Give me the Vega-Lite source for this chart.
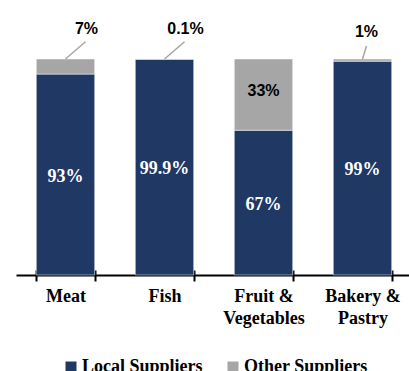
{
  "$schema": "https://vega.github.io/schema/vega-lite/v6.json",
  "autosize": "none",
  "width": 396,
  "height": 275,
  "padding": {"left": 16, "top": 0, "right": 0, "bottom": 96},
  "config": {"view": {"stroke": null}},
  "data": {
    "values": [
      {"category": "Meat", "supplier": "Local Suppliers", "value": 93, "label": "93%"},
      {"category": "Meat", "supplier": "Other Suppliers", "value": 7, "label": "7%"},
      {"category": "Fish", "supplier": "Local Suppliers", "value": 99.9, "label": "99.9%"},
      {"category": "Fish", "supplier": "Other Suppliers", "value": 0.1, "label": "0.1%"},
      {"category": "Fruit & Vegetables", "supplier": "Local Suppliers", "value": 67, "label": "67%"},
      {"category": "Fruit & Vegetables", "supplier": "Other Suppliers", "value": 33, "label": "33%"},
      {"category": "Bakery & Pastry", "supplier": "Local Suppliers", "value": 99, "label": "99%"},
      {"category": "Bakery & Pastry", "supplier": "Other Suppliers", "value": 1, "label": "1%"}
    ]
  },
  "encoding": {
    "x": {
      "field": "category",
      "type": "nominal",
      "sort": null,
      "scale": {"paddingInner": 0.41, "paddingOuter": 0.205},
      "axis": {
        "title": null,
        "domain": false,
        "tickBand": "extent",
        "tickColor": "black",
        "tickWidth": 2,
        "tickSize": 11,
        "offset": -5,
        "labelAngle": 0,
        "labelFont": "Liberation Serif",
        "labelFontWeight": "bold",
        "labelFontSize": 18,
        "labelColor": "black",
        "labelPadding": 6,
        "labelLineHeight": 22,
        "labelExpr": "split(replace(datum.label, '& ', '&|'), '|')"
      }
    }
  },
  "layer": [
    {
      "mark": {"type": "bar", "stroke": "#ffffff", "strokeWidth": 0.5},
      "encoding": {
        "y": {
          "field": "value",
          "type": "quantitative",
          "stack": "zero",
          "scale": {"domain": [0, 127.3], "nice": false},
          "axis": {
            "title": null,
            "values": [0],
            "grid": true,
            "gridColor": "black",
            "gridWidth": 2,
            "domain": false,
            "ticks": false,
            "labels": false
          }
        },
        "color": {
          "field": "supplier",
          "type": "nominal",
          "scale": {"domain": ["Local Suppliers", "Other Suppliers"], "range": ["#203864", "#A6A6A6"]},
          "legend": {
            "title": null,
            "orient": "none",
            "direction": "horizontal",
            "legendX": 46,
            "legendY": 358,
            "symbolType": "square",
            "symbolSize": 121,
            "symbolStrokeWidth": 0,
            "labelFont": "Liberation Serif",
            "labelFontWeight": "bold",
            "labelFontSize": 18,
            "labelColor": "black",
            "labelOffset": 2,
            "columnPadding": 21
          }
        },
        "order": {"field": "supplier", "sort": "ascending"}
      }
    },
    {
      "mark": {"type": "text", "font": "Liberation Serif", "fontWeight": "bold", "fontSize": 18, "color": "white", "baseline": "middle", "dy": 2},
      "encoding": {
        "y": {"field": "value", "type": "quantitative", "stack": "zero", "bandPosition": 0.5},
        "order": {"field": "supplier", "sort": "ascending"},
        "text": {"condition": {"test": "datum.supplier == 'Local Suppliers'", "field": "label"}, "value": ""}
      }
    },
    {
      "mark": {"type": "text", "font": "Liberation Sans", "fontWeight": "bold", "fontSize": 16, "color": "black", "baseline": "middle", "dy": -4},
      "encoding": {
        "y": {"field": "value", "type": "quantitative", "stack": "zero", "bandPosition": 0.5},
        "order": {"field": "supplier", "sort": "ascending"},
        "text": {"condition": {"test": "datum.supplier == 'Other Suppliers' && datum.value >= 20", "field": "label"}, "value": ""}
      }
    },
    {
      "transform": [{"filter": "datum.supplier == 'Other Suppliers' && datum.value < 20 && datum.category != 'Bakery & Pastry'"}],
      "mark": {"type": "rule", "color": "#A6A6A6", "strokeWidth": 1.5, "x2Offset": 20},
      "encoding": {
        "x": {"field": "category", "type": "nominal", "sort": null, "bandPosition": 0.5},
        "x2": {"field": "category", "bandPosition": 0.5},
        "y": {"datum": 100},
        "y2": {"datum": 108}
      }
    },
    {
      "transform": [{"filter": "datum.supplier == 'Other Suppliers' && datum.category == 'Bakery & Pastry'"}],
      "mark": {"type": "rule", "color": "#A6A6A6", "strokeWidth": 1.5, "x2Offset": 4},
      "encoding": {
        "x": {"field": "category", "type": "nominal", "sort": null, "bandPosition": 0.5},
        "x2": {"field": "category", "bandPosition": 0.5},
        "y": {"datum": 100},
        "y2": {"datum": 106}
      }
    },
    {
      "transform": [{"filter": "datum.supplier == 'Other Suppliers' && datum.value < 20 && datum.category != 'Bakery & Pastry'"}],
      "mark": {"type": "text", "font": "Liberation Sans", "fontWeight": "bold", "fontSize": 16, "color": "black", "baseline": "middle", "dx": 21},
      "encoding": {
        "y": {"datum": 114},
        "text": {"field": "label"}
      }
    },
    {
      "transform": [{"filter": "datum.supplier == 'Other Suppliers' && datum.category == 'Bakery & Pastry'"}],
      "mark": {"type": "text", "font": "Liberation Sans", "fontWeight": "bold", "fontSize": 16, "color": "black", "baseline": "middle", "dx": 4},
      "encoding": {
        "y": {"datum": 112.5},
        "text": {"field": "label"}
      }
    }
  ]
}
